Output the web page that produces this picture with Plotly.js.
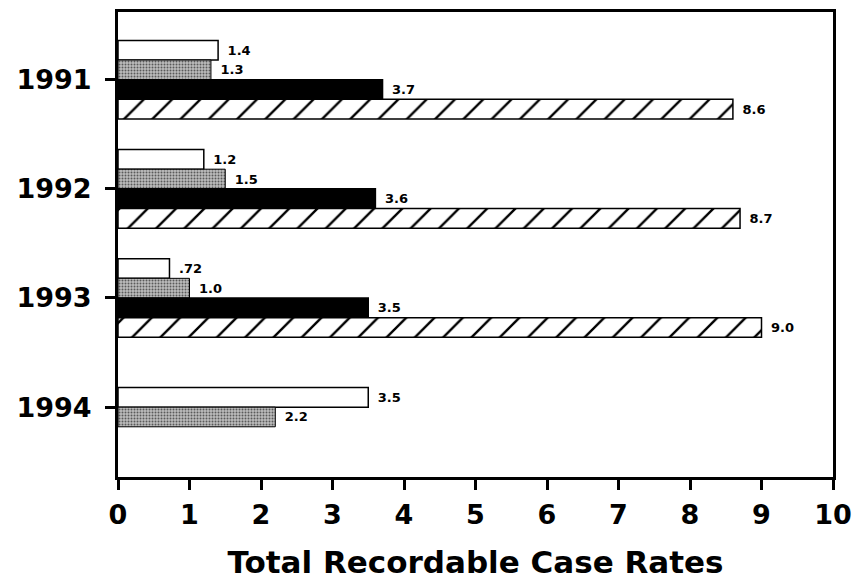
<!DOCTYPE html>
<html>
<head>
<meta charset="utf-8">
<script src="https://cdn.plot.ly/plotly-3.0.1.min.js"></script>
<style>html,body{margin:0;padding:0;background:#fff;}#chart{width:859px;height:586px;}</style>
</head>
<body>
<div id="chart"></div>
<script>
// ---- data ----
const years = ['1991', '1992', '1993', '1994'];
const seriesWhite = [1.4, 1.2, 0.72, 3.5];
const seriesGray = [1.3, 1.5, 1.0, 2.2];
const seriesBlack = [3.7, 3.6, 3.5, null];
const seriesHatch = [8.6, 8.7, 9.0, null];
const labelsWhite = ['1.4', '1.2', '.72', '3.5'];
const labelsGray = ['1.3', '1.5', '1.0', '2.2'];
const labelsBlack = ['3.7', '3.6', '3.5', ''];
const labelsHatch = ['8.6', '8.7', '9.0', ''];
const xTickVals = [0, 1, 2, 3, 4, 5, 6, 7, 8, 9, 10];
const xTitle = 'Total Recordable Case Rates';

// ---- styling ----
const FONT = '"DejaVu Sans", "Liberation Sans", Arial, sans-serif';
const barW = 0.18;
const allSeries = [seriesWhite, seriesGray, seriesBlack, seriesHatch];
const allLabels = [labelsWhite, labelsGray, labelsBlack, labelsHatch];
const markers = [
  {color: '#ffffff', line: {color: '#000', width: 1.5}},
  {color: '#b0b0b0', line: {color: '#000', width: 1},
   pattern: {shape: '.', fgcolor: '#5a5a5a', bgcolor: '#bdbdbd', size: 3, solidity: 0.35}},
  {color: '#000000', line: {color: '#000', width: 1.5}},
  {color: '#ffffff', line: {color: '#000', width: 1.5},
   pattern: {shape: '/', fgcolor: '#000', bgcolor: '#fff', size: 20, solidity: 0.12}}
];

// offsets so that present bars of each group are centred on the category
const offsets = allSeries.map(() => []);
years.forEach((y, j) => {
  const present = allSeries.map((s, i) => s[j] != null ? i : -1).filter(i => i >= 0);
  const n = present.length;
  allSeries.forEach((s, i) => {
    const k = present.indexOf(i);
    offsets[i][j] = k >= 0 ? (k - n / 2) * barW : 0;
  });
});

const traces = allSeries.map((s, i) => ({
  type: 'bar',
  orientation: 'h',
  y: years,
  x: s,
  text: allLabels[i],
  texttemplate: '\u2002%{text}',
  textposition: 'outside',
  cliponaxis: false,
  textfont: {family: FONT, size: 13, color: '#000', weight: 'bold'},
  width: barW,
  offset: offsets[i],
  marker: markers[i],
  showlegend: false,
  hoverinfo: 'x+y'
}));

const layout = {
  width: 859, height: 586,
  margin: {l: 118, r: 26, t: 12, b: 109},
  paper_bgcolor: '#fff', plot_bgcolor: '#fff',
  barmode: 'overlay',
  xaxis: {
    range: [0, 10], tickvals: xTickVals,
    showgrid: false, zeroline: false,
    showline: true, linecolor: '#000', linewidth: 3, mirror: true,
    ticks: 'outside', ticklen: 10, tickwidth: 3, tickcolor: '#000',
    ticklabelstandoff: 2,
    tickfont: {family: FONT, size: 27, color: '#000', weight: 'bold'},
    title: {text: xTitle, font: {family: FONT, size: 31, color: '#000', weight: 'bold'}, standoff: 22}
  },
  yaxis: {
    type: 'category', categoryorder: 'array', categoryarray: years,
    range: [3.64, -0.62],
    showgrid: false, zeroline: false,
    showline: true, linecolor: '#000', linewidth: 3, mirror: true,
    ticks: 'outside', ticklen: 10, tickwidth: 3, tickcolor: '#000',
    ticklabelstandoff: 8,
    tickfont: {family: FONT, size: 27, color: '#000', weight: 'bold'}
  }
};

Plotly.newPlot('chart', traces, layout, {displayModeBar: false, staticPlot: true});
</script>
</body>
</html>
